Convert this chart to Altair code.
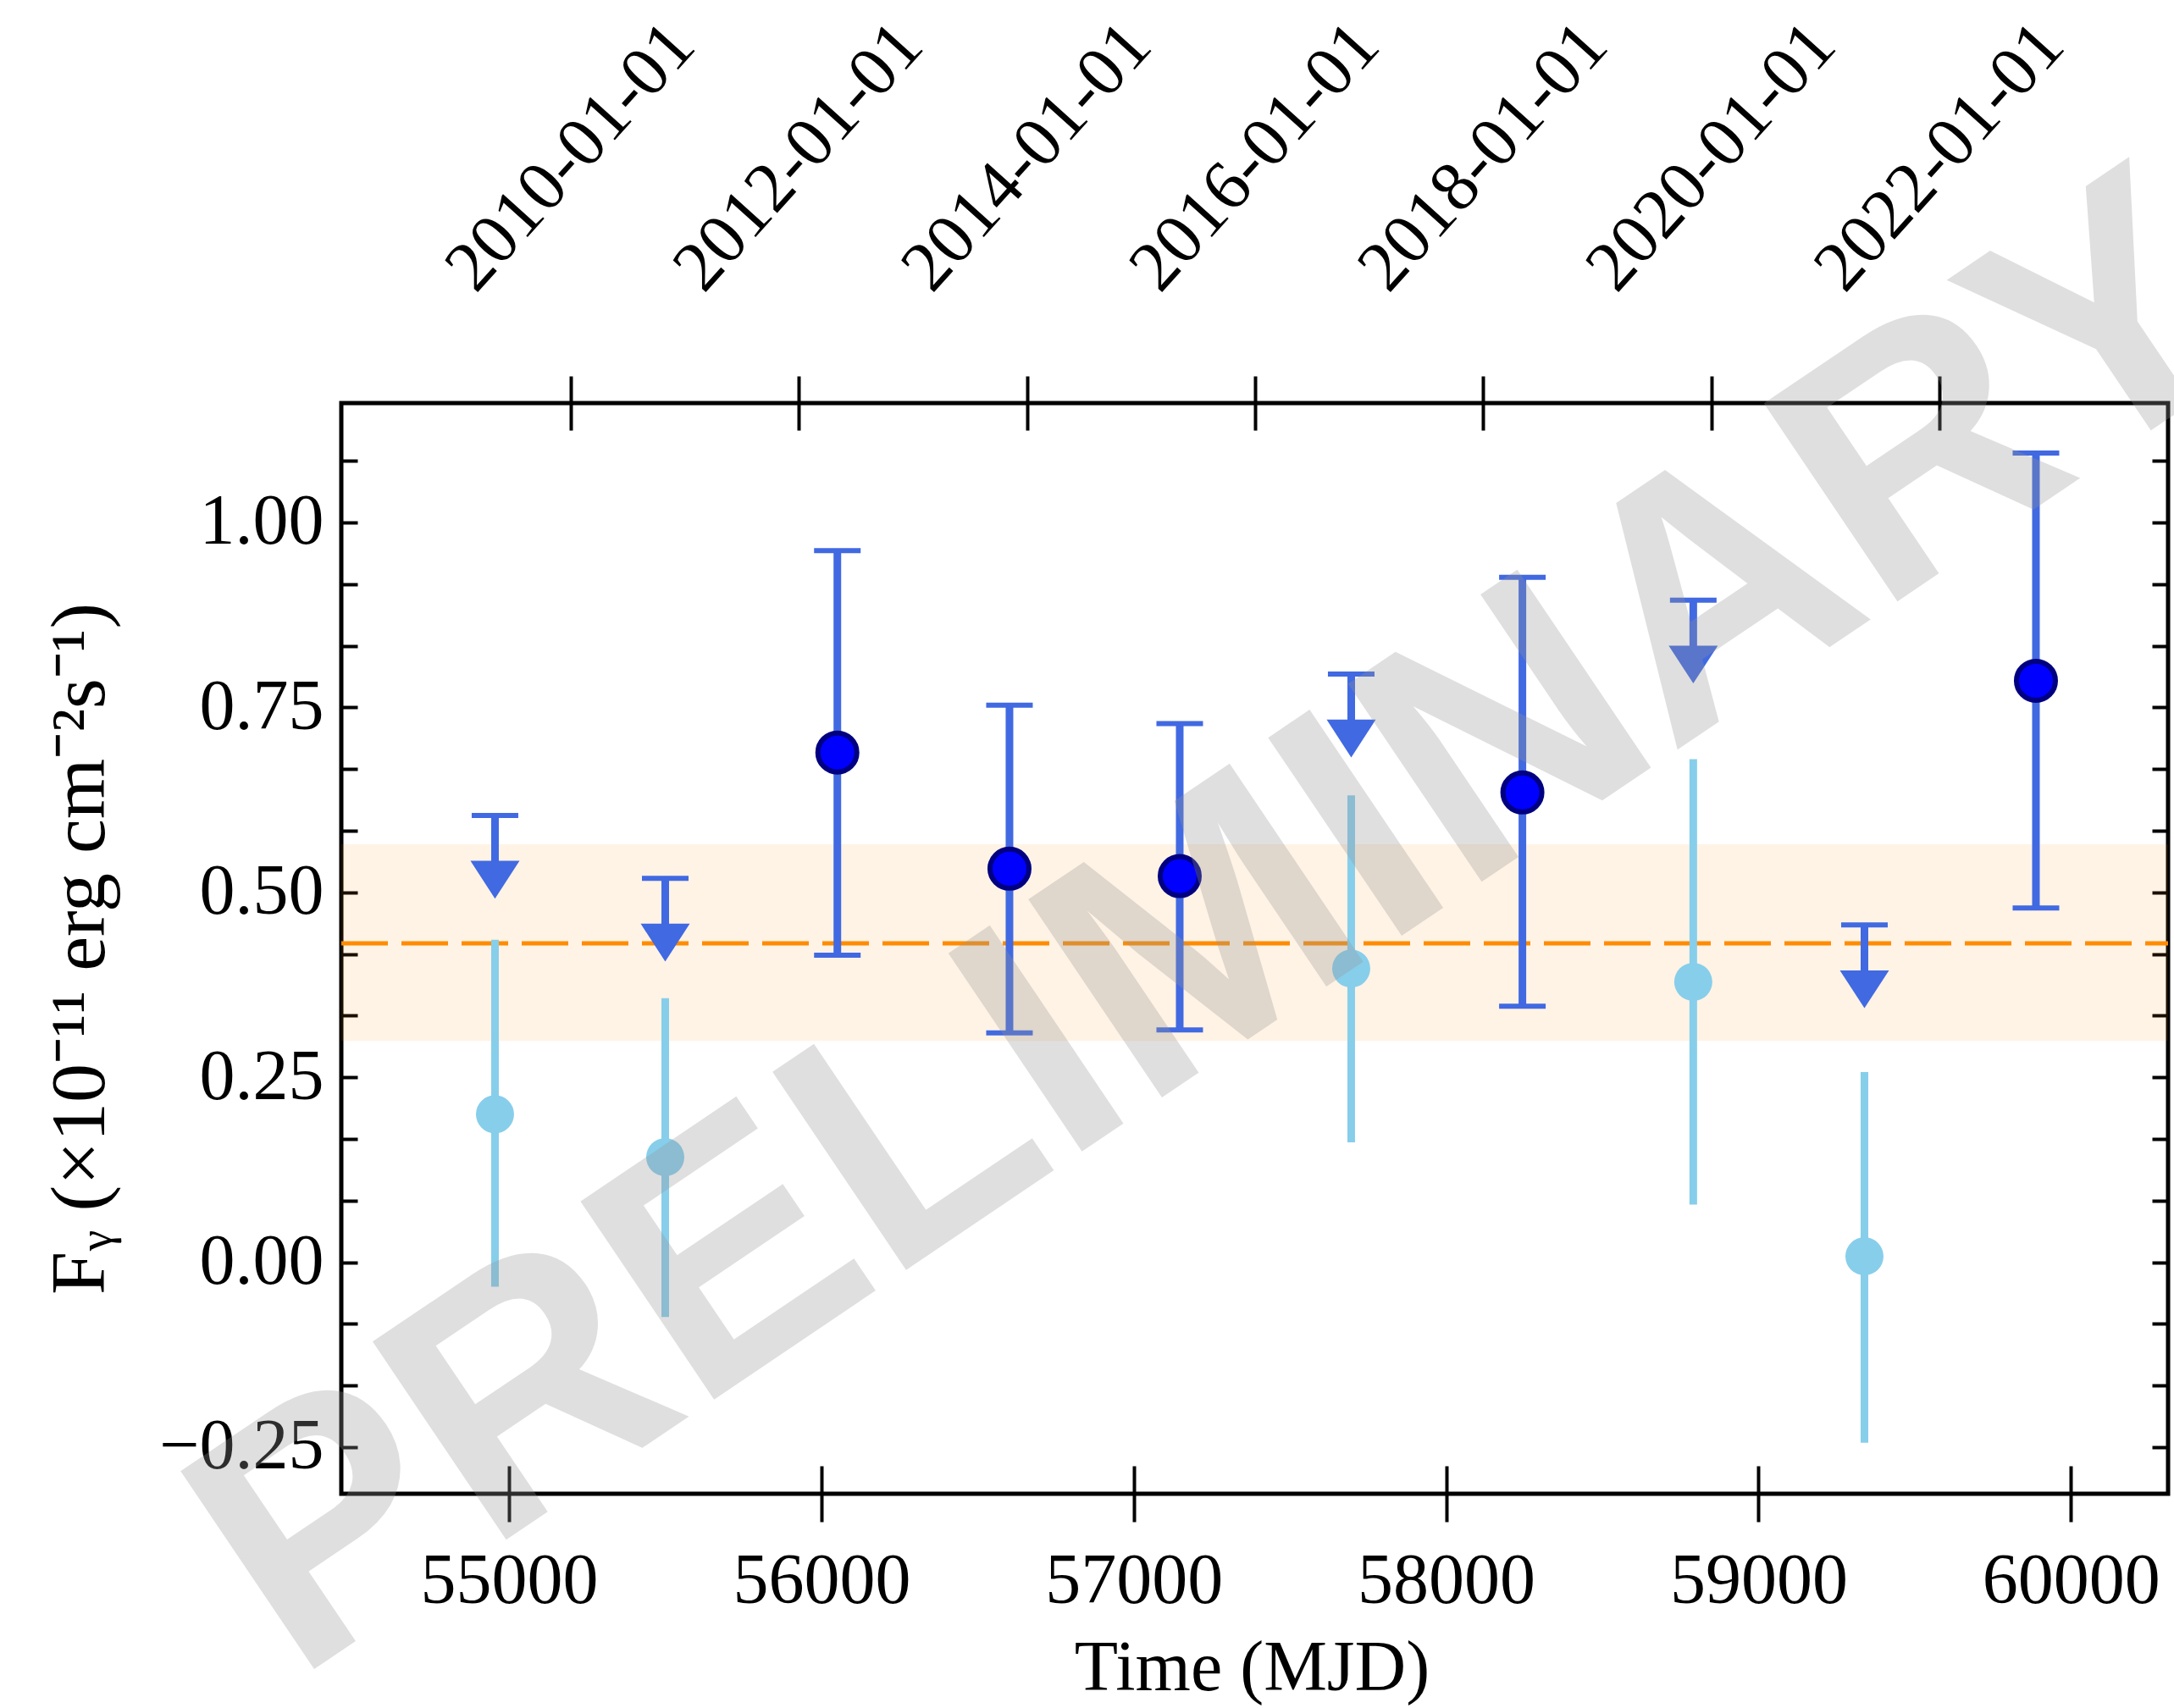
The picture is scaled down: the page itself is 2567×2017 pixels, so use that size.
import altair as alt
import pandas as pd

# ---------------- data ----------------
# significant detections
det_mjd = [56051, 56602, 57147, 58244, 59888]
det_flux = [0.689, 0.532, 0.522, 0.635, 0.786]
det_lo = [0.415, 0.310, 0.314, 0.346, 0.479]
det_hi = [0.962, 0.753, 0.728, 0.926, 1.094]

# upper limits
ul_mjd = [54955, 55500, 57696, 58791, 59339]
ul_flux = [0.604, 0.519, 0.795, 0.895, 0.456]

# low-significance flux estimates in the upper-limit bins
low_mjd = [54955, 55500, 57696, 58791, 59339]
low_flux = [0.200, 0.142, 0.397, 0.379, 0.008]
low_lo = [-0.033, -0.074, 0.162, 0.078, -0.244]
low_hi = [0.436, 0.357, 0.631, 0.680, 0.257]

# weighted mean and its band
mean_flux = [0.431]
band_lo = [0.299]
band_hi = [0.565]

# axes
x_ticks = [55000, 56000, 57000, 58000, 59000, 60000]
date_tick_mjd = [55197, 55927, 56658, 57388, 58119, 58849, 59580]
date_tick_labels = ["2010-01-01", "2012-01-01", "2014-01-01", "2016-01-01",
                    "2018-01-01", "2020-01-01", "2022-01-01"]
y_ticks = [-0.25, -0.16667, -0.08333, 0.0, 0.08333, 0.16667, 0.25, 0.33333,
           0.41667, 0.5, 0.58333, 0.66667, 0.75, 0.83333, 0.91667, 1.0, 1.08333]
x_domain = [54463, 60311]
y_domain = [-0.313, 1.1614]

# ---------------- styling ----------------
W, H = 2157, 1288
SERIF = "Liberation Serif"
FS = 84
ROYAL = "#4169e1"
SKY = "#87ceeb"
ORANGE = "#ff8c00"
ARROW_SHAFT = 0.065   # arrow shaft length below the limit (data units)
ARROW_HEAD = 0.087    # arrow head centre below the limit (data units)

det_df = pd.DataFrame({"mjd": det_mjd, "flux": det_flux, "lo": det_lo, "hi": det_hi})
ul_df = pd.DataFrame({"mjd": ul_mjd, "ul": ul_flux})
ul_df["shaft"] = ul_df["ul"] - ARROW_SHAFT
ul_df["head"] = ul_df["ul"] - ARROW_HEAD
low_df = pd.DataFrame({"mjd": low_mjd, "flux": low_flux, "lo": low_lo, "hi": low_hi})
ref_df = pd.DataFrame({"mean": mean_flux, "lo": band_lo, "hi": band_hi})

xs = alt.Scale(domain=x_domain, nice=False, zero=False)
ys = alt.Scale(domain=y_domain, nice=False, zero=False)

major_expr = ("abs(datum.value*4 - round(datum.value*4)) < 0.01 ? "
              "format(datum.value, '.2f') : ''")
date_expr = "''"
for m, lab in reversed(list(zip(date_tick_mjd, date_tick_labels))):
    date_expr = f"(abs(datum.value - {m}) < 1 ? '{lab}' : {date_expr})"

bottom_axis = alt.Axis(
    orient="bottom", values=x_ticks, format="d", offset=-33, tickSize=66,
    tickWidth=4, tickColor="black", domain=False, grid=False,
    labelFont=SERIF, labelFontSize=FS, labelColor="black", labelPadding=95,
    labelBaseline="alphabetic", labelOverlap=False, labelFlush=False,
    labelLimit=2000, title="Time (MJD)", titleFont=SERIF, titleFontSize=FS,
    titleFontWeight="normal", titleColor="black", titleX=1075, titleY=264,
    titleAlign="center", titleBaseline="alphabetic", titleLimit=3000)

top_axis = alt.Axis(
    orient="top", values=date_tick_mjd, offset=-32, tickSize=64, tickWidth=4,
    tickColor="black", domain=False, grid=False, labelFont=SERIF,
    labelFontSize=FS, labelColor="black", labelAngle=312, labelAlign="center",
    labelBaseline="middle", labelPadding=259, labelExpr=date_expr,
    labelOverlap=False, labelFlush=False, labelLimit=2000, title=None)

left_axis = alt.Axis(
    orient="left", values=y_ticks, offset=-19, tickSize=19, tickWidth=4,
    tickColor="black", domain=False, grid=False, labelFont=SERIF,
    labelFontSize=FS, labelColor="black", labelPadding=21, labelExpr=major_expr,
    labelOverlap=False, labelFlush=False, labelLimit=2000,
    title="F\u1d67  (\u00d710\u207b\u00b9\u00b9  erg cm\u207b\u00b2s\u207b\u00b9)",
    titleFont=SERIF, titleFontSize=92, titleFontWeight="normal",
    titleColor="black", titleAngle=270, titleX=-328, titleY=644,
    titleAlign="center", titleBaseline="middle", titleLimit=3000)

right_axis = alt.Axis(
    orient="right", values=y_ticks, offset=-19, tickSize=19, tickWidth=4,
    tickColor="black", domain=False, grid=False, labels=False, title=None)

band = alt.Chart(ref_df).mark_rect(color=ORANGE, opacity=0.1).encode(
    x=alt.value(0), x2=alt.value(W),
    y=alt.Y("lo:Q", scale=ys, axis=None), y2="hi:Q")

mean_line = alt.Chart(ref_df).mark_rule(
    color=ORANGE, strokeWidth=5, strokeDash=[55, 16]).encode(
    x=alt.value(0), x2=alt.value(W), y=alt.Y("mean:Q", scale=ys, axis=None))

low_bars = alt.Chart(low_df).mark_rule(color=SKY, strokeWidth=9).encode(
    x=alt.X("mjd:Q", scale=xs, axis=bottom_axis),
    y=alt.Y("lo:Q", scale=ys, axis=left_axis), y2="hi:Q")

low_pts = alt.Chart(low_df).mark_circle(color=SKY, size=2025, opacity=1).encode(
    x=alt.X("mjd:Q", scale=xs, axis=None), y=alt.Y("flux:Q", scale=ys, axis=None))

ul_shaft = alt.Chart(ul_df).mark_rule(color=ROYAL, strokeWidth=9).encode(
    x=alt.X("mjd:Q", scale=xs, axis=None),
    y=alt.Y("ul:Q", scale=ys, axis=None), y2="shaft:Q")

ul_cap = alt.Chart(ul_df).mark_tick(
    color=ROYAL, orient="horizontal", size=55, thickness=6, opacity=1).encode(
    x=alt.X("mjd:Q", scale=xs, axis=None), y=alt.Y("ul:Q", scale=ys, axis=None))

ul_head = alt.Chart(ul_df).mark_point(
    shape="M-1,-0.77L1,-0.77L0,0.77Z", filled=True, color=ROYAL, size=3364,
    opacity=1).encode(
    x=alt.X("mjd:Q", scale=xs, axis=None), y=alt.Y("head:Q", scale=ys, axis=None))

det_bars = alt.Chart(det_df).mark_rule(color=ROYAL, strokeWidth=9).encode(
    x=alt.X("mjd:Q", scale=xs, axis=top_axis),
    y=alt.Y("lo:Q", scale=ys, axis=right_axis), y2="hi:Q")

det_cap_lo = alt.Chart(det_df).mark_tick(
    color=ROYAL, orient="horizontal", size=55, thickness=6, opacity=1).encode(
    x=alt.X("mjd:Q", scale=xs, axis=None), y=alt.Y("lo:Q", scale=ys, axis=None))

det_cap_hi = alt.Chart(det_df).mark_tick(
    color=ROYAL, orient="horizontal", size=55, thickness=6, opacity=1).encode(
    x=alt.X("mjd:Q", scale=xs, axis=None), y=alt.Y("hi:Q", scale=ys, axis=None))

det_pts = alt.Chart(det_df).mark_circle(
    fill="#0000ff", stroke="#000080", strokeWidth=6, size=2116, opacity=1).encode(
    x=alt.X("mjd:Q", scale=xs, axis=None), y=alt.Y("flux:Q", scale=ys, axis=None))

watermark = alt.Chart(ref_df).mark_text(
    text="PRELIMINARY", font="Liberation Sans", fontWeight="bold", fontSize=410,
    angle=326, color="#969696", opacity=0.3, align="center",
    baseline="middle").encode(x=alt.value(1041), y=alt.value(623))

chart = alt.layer(
    band, mean_line, low_bars, low_pts, ul_shaft, ul_cap, ul_head,
    det_bars, det_cap_lo, det_cap_hi, det_pts, watermark
).resolve_axis(x="independent", y="independent").properties(
    width=W, height=H,
    autosize=alt.AutoSizeParams(type="none"),
    padding={"left": 403, "top": 476, "right": 7, "bottom": 253},
    background="white",
).configure_view(stroke="black", strokeWidth=5)

chart.save("out.html", embed_options={"renderer": "svg", "actions": False})
